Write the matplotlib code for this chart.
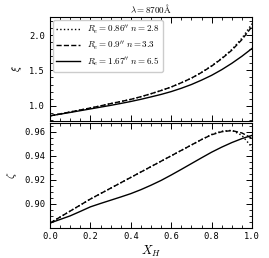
import matplotlib
matplotlib.use("Agg")
import matplotlib.pyplot as plt
from matplotlib.ticker import AutoMinorLocator, MultipleLocator

plt.rcParams['mathtext.fontset'] = 'cm'
plt.rcParams['font.family'] = ['DejaVu Sans Mono']

x_h = [0.00, 0.05, 0.10, 0.15, 0.20, 0.25, 0.30, 0.35, 0.40, 0.45, 0.50,
       0.55, 0.60, 0.65, 0.70, 0.75, 0.80, 0.85, 0.90, 0.95, 1.00]

labels = [r"$R_e = 0.86^{\prime\prime}\ n = 2.8$",
          r"$R_e = 0.9^{\prime\prime}\ n = 3.3$",
          r"$R_e = 1.67^{\prime\prime}\ n = 6.5$"]

xi_n28 = [0.857, 0.884, 0.912, 0.940, 0.968, 0.998, 1.030, 1.059, 1.090, 1.128, 1.170,
          1.215, 1.265, 1.325, 1.390, 1.472, 1.565, 1.672, 1.795, 1.955, 2.160]
xi_n33 = [0.857, 0.884, 0.912, 0.940, 0.968, 0.998, 1.030, 1.059, 1.090, 1.128, 1.170,
          1.215, 1.265, 1.325, 1.390, 1.470, 1.560, 1.665, 1.785, 1.935, 2.120]
xi_n65 = [0.857, 0.881, 0.905, 0.930, 0.955, 0.980, 1.005, 1.032, 1.060, 1.091, 1.125,
          1.160, 1.200, 1.247, 1.300, 1.362, 1.430, 1.510, 1.600, 1.700, 1.810]

zeta_n28 = [0.8840, 0.8890, 0.8940, 0.8990, 0.9040, 0.9085, 0.9130, 0.9175, 0.9220, 0.9265, 0.9310,
            0.9355, 0.9400, 0.9445, 0.9490, 0.9535, 0.9578, 0.9605, 0.9612, 0.9570, 0.9470]
zeta_n33 = [0.8840, 0.8890, 0.8940, 0.8990, 0.9040, 0.9085, 0.9130, 0.9175, 0.9220, 0.9265, 0.9310,
            0.9355, 0.9400, 0.9445, 0.9490, 0.9535, 0.9575, 0.9600, 0.9610, 0.9590, 0.9545]
zeta_n65 = [0.8840, 0.8870, 0.8900, 0.8937, 0.8975, 0.9003, 0.9030, 0.9057, 0.9085, 0.9118, 0.9155,
            0.9195, 0.9240, 0.9287, 0.9335, 0.9383, 0.9430, 0.9472, 0.9510, 0.9543, 0.9570]

styles = [':', '--', '-']

fig = plt.figure(figsize=(2.69, 2.58), dpi=100)
ax1 = fig.add_axes([0.1859, 0.531, 0.751, 0.4031])
ax2 = fig.add_axes([0.1859, 0.1182, 0.751, 0.4051])

for ys, ls, lab in zip([xi_n28, xi_n33, xi_n65], styles, labels):
    ax1.plot(x_h, ys, ls=ls, color='black', lw=1.0, label=lab)
for ys, ls in zip([zeta_n28, zeta_n33, zeta_n65], styles):
    ax2.plot(x_h, ys, ls=ls, color='black', lw=1.0)

ax1.set_xlim(0, 1)
ax2.set_xlim(0, 1)
ax1.set_ylim(0.784, 2.255)
ax2.set_ylim(0.8803, 0.9673)

ax1.yaxis.set_major_locator(MultipleLocator(0.5))
ax2.yaxis.set_major_locator(MultipleLocator(0.02))
for ax in (ax1, ax2):
    ax.xaxis.set_major_locator(MultipleLocator(0.2))
    ax.xaxis.set_minor_locator(AutoMinorLocator())
    ax.yaxis.set_minor_locator(AutoMinorLocator())
    ax.tick_params(which='both', direction='in', top=True, right=True, labelsize=6.3)
    ax.tick_params(which='major', length=4, width=0.7)
    ax.tick_params(which='minor', length=2, width=0.6)
    for s in ax.spines.values():
        s.set_linewidth(0.8)
ax1.tick_params(labelbottom=False)

ax1.set_ylabel(r"$\xi$", fontsize=8)
ax2.set_ylabel(r"$\zeta$", fontsize=8)
ax2.set_xlabel(r"$X_H$", fontsize=9, labelpad=2)
ax1.set_title(r"$\lambda = 8700\mathrm{\AA}$", fontsize=6.5, pad=3)

ax1.legend(loc='upper left', fontsize=6.5, handlelength=2.6, frameon=True,
           borderaxespad=0.3, labelspacing=0.4, handletextpad=0.8,
           edgecolor='#cccccc', framealpha=1)

fig.savefig("out.png", dpi=100)
